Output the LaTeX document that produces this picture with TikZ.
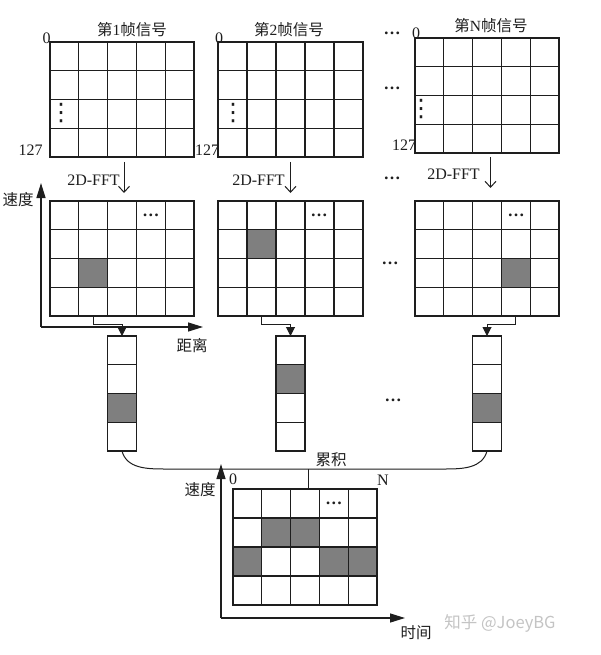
\documentclass[tikz,border=0pt]{standalone}
\usepackage{fontspec}
\setmainfont{Liberation Serif}
\newfontfamily\cjk{Noto Sans CJK SC}
\newfontfamily\dvs{DejaVu Sans}
\usetikzlibrary{arrows.meta,calc,fit}
\definecolor{cellgray}{HTML}{7F7F7F}
\definecolor{inkc}{HTML}{1E1E1E}
\definecolor{wmark}{HTML}{C4C4C4}

\newcommand{\mkgrid}[3]{\node[fit={#2 #3},inner sep=0pt,outer sep=0pt] (#1) {};}
\newcommand{\darkcell}[5]{%
  \fill[cellgray] let \p1=(#1.north west),\p2=(#1.south east) in
  ({\x1+(\x2-\x1)*(#2-1)/#4},{\y1+(\y2-\y1)*(#3-1)/#5}) rectangle
  ({\x1+(\x2-\x1)*#2/#4},{\y1+(\y2-\y1)*#3/#5});}
\newcommand{\matlines}[1]{%
  \draw[gridline] (#1.north west) rectangle (#1.south east);
  \foreach \i in {1,2,3,4}{\draw[gridline] ($(#1.north west)!\i/5!(#1.north east)$) -- ($(#1.south west)!\i/5!(#1.south east)$);}
  \foreach \i in {1,2,3}{\draw[gridline] ($(#1.north west)!\i/4!(#1.south west)$) -- ($(#1.north east)!\i/4!(#1.south east)$);}}
\newcommand{\collines}[1]{%
  \draw[gridline] (#1.north west) rectangle (#1.south east);
  \foreach \i in {1,2,3}{\draw[gridline] ($(#1.north west)!\i/4!(#1.south west)$) -- ($(#1.north east)!\i/4!(#1.south east)$);}}

\begin{document}
\begin{tikzpicture}[x=1pt,y=-1pt,line join=miter,
  gridline/.style={line width=1.2pt,draw=inkc},
  thinline/.style={line width=1pt,draw=inkc},
  fftarrow/.style={line width=1pt,draw=inkc,-{Straight Barb[length=6pt,width=11pt,line width=1pt]}},
  feedarrow/.style={line width=1pt,draw=inkc,-{Triangle[length=9pt,width=9pt]}},
  axisarrow/.style={line width=1.3pt,draw=inkc,-{Triangle[length=15pt,width=9pt]}},
  lat/.style={font=\fontsize{16}{18}\selectfont,text=inkc,inner sep=0pt},
  han/.style={font=\cjk\fontsize{15.5}{17}\selectfont,text=inkc,inner sep=0pt},
  hdots/.style={font=\fontsize{17}{18}\selectfont\bfseries,text=inkc,inner sep=0pt},
  vdot/.style={font=\dvs\fontsize{24}{26}\selectfont,text=inkc,inner sep=0pt}
]
\useasboundingbox (0,0) rectangle (600,655);
\fill[white] (0,0) rectangle (600,655);

% ---- top raw-signal grids
\mkgrid{A1}{(50,42)}{(194,157)}
\mkgrid{A2}{(218,42)}{(363,157)}
\mkgrid{A3}{(415,38)}{(559,153)}
\matlines{A1}\matlines{A2}\matlines{A3}

% ---- range-doppler grids
\mkgrid{B1}{(50,201)}{(194,316)}
\mkgrid{B2}{(218,201)}{(363,316)}
\mkgrid{B3}{(415,201)}{(559,316)}
\darkcell{B1}{2}{3}{5}{4}
\darkcell{B2}{2}{2}{5}{4}
\darkcell{B3}{4}{3}{5}{4}
\matlines{B1}\matlines{B2}\matlines{B3}

% ---- extracted columns
\mkgrid{C1}{(107.5,336)}{(136.5,451)}
\mkgrid{C2}{(276,336)}{(305,451)}
\mkgrid{C3}{(472.5,336)}{(501.5,451)}
\darkcell{C1}{1}{3}{1}{4}
\darkcell{C2}{1}{2}{1}{4}
\darkcell{C3}{1}{3}{1}{4}
\collines{C1}\collines{C2}\collines{C3}

% ---- accumulated grid
\mkgrid{D}{(233,489)}{(377,605)}
\darkcell{D}{2}{2}{5}{4}
\darkcell{D}{3}{2}{5}{4}
\darkcell{D}{1}{3}{5}{4}
\darkcell{D}{4}{3}{5}{4}
\darkcell{D}{5}{3}{5}{4}
\matlines{D}

% ---- titles
\node[han] (t1) at (132,30) {第{\rmfamily 1}帧信号};
\node[han] (t2) at (289,30) {第{\rmfamily 2}帧信号};
\node[han] (t3) at (491,26) {第{\rmfamily N}帧信号};

% ---- index labels
\node[lat] (z1) at (46.5,38) {0};
\node[lat] (z2) at (219,38) {0};
\node[lat] (z3) at (416,33) {0};
\node[lat] (e1) at (30.5,150) {127};
\node[lat] (e2) at (207,150) {127};
\node[lat] (e3) at (404,145) {127};

% ---- vertical dots inside top grids
\node[vdot] (v1) at (61,113) {⋮};
\node[vdot] (v2) at (233,113) {⋮};
\node[vdot] (v3) at (421,109) {⋮};

% ---- horizontal dots
\node[hdots] (h1) at (392,33) {…};
\node[hdots] (h2) at (392,88) {…};
\node[hdots] (h3) at (392,178) {…};
\node[hdots] (h4) at (390,263) {…};
\node[hdots] (h5) at (393,400) {…};
\node[hdots] (d1) at (150.8,215) {…};
\node[hdots] (d2) at (319,215) {…};
\node[hdots] (d3) at (516,215) {…};
\node[hdots] (d4) at (333.8,503.5) {…};

% ---- 2D-FFT arrows
\node[lat] (f1) at (93.5,180) {2D-FFT};
\node[lat] (f2) at (258.5,180) {2D-FFT};
\node[lat] (f3) at (453.5,174) {2D-FFT};
\draw[fftarrow,shorten <=5pt,shorten >=8pt] ([xshift=2pt]A1.south) -- ([xshift=2pt]B1.north);
\draw[fftarrow,shorten <=5pt,shorten >=8pt] (A2.south) -- (B2.north);
\draw[fftarrow,shorten <=4pt,shorten >=13pt] ([xshift=3.5pt]A3.south) -- ([xshift=3.5pt]B3.north);

% ---- feed connectors to columns
\coordinate (b1) at ($(B1.south west)!0.3!(B1.south east)$);
\coordinate (b2) at ($(B2.south west)!0.3!(B2.south east)$);
\coordinate (b3) at ($(B3.south west)!0.7!(B3.south east)$);
\draw[feedarrow] (b1) -- ++(0,8) -| (C1.north);
\draw[feedarrow] (b2) -- ++(0,8) -| (C2.north);
\draw[feedarrow] (b3) -- ++(0,8) -| (C3.north);

% ---- top-left axes
\coordinate (o1) at (41,327);
\coordinate (o1v) at (41,183);
\coordinate (o1h) at (203,327);
\draw[axisarrow] (o1) -- (o1v);
\draw[axisarrow] (o1) -- (o1h);
\node[han] (s1) at (18,200) {速度};
\node[han] (r1) at (192,346) {距离};

% ---- accumulation bracket
\coordinate (m1) at (165,469);
\coordinate (m2) at (445,469);
\coordinate (m3) at (308,469);
\draw[thinline] (C1.south) to[out=-75,in=180] (m1) -- (m2) to[out=0,in=-105] (C3.south);
\draw[thinline] (m3) -- (m3 |- D.north);
\node[han] (acc) at (331,460) {累积};

% ---- bottom axes
\coordinate (o2) at (221,618);
\coordinate (o2v) at (221,464);
\coordinate (o2h) at (405,618);
\draw[axisarrow] (o2) -- (o2v);
\draw[axisarrow] (o2) -- (o2h);
\node[han] (s2) at (200,490) {速度};
\node[han] (tm) at (416,633) {时间};
\node[lat] (z4) at (233,479) {0};
\node[lat] (nn) at (383,480) {N};

% ---- watermark
\node[font=\cjk\fontsize{16.5}{18}\selectfont,text=wmark,inner sep=0pt] (wm) at (500,623) {知乎 @JoeyBG};
\end{tikzpicture}
\end{document}
